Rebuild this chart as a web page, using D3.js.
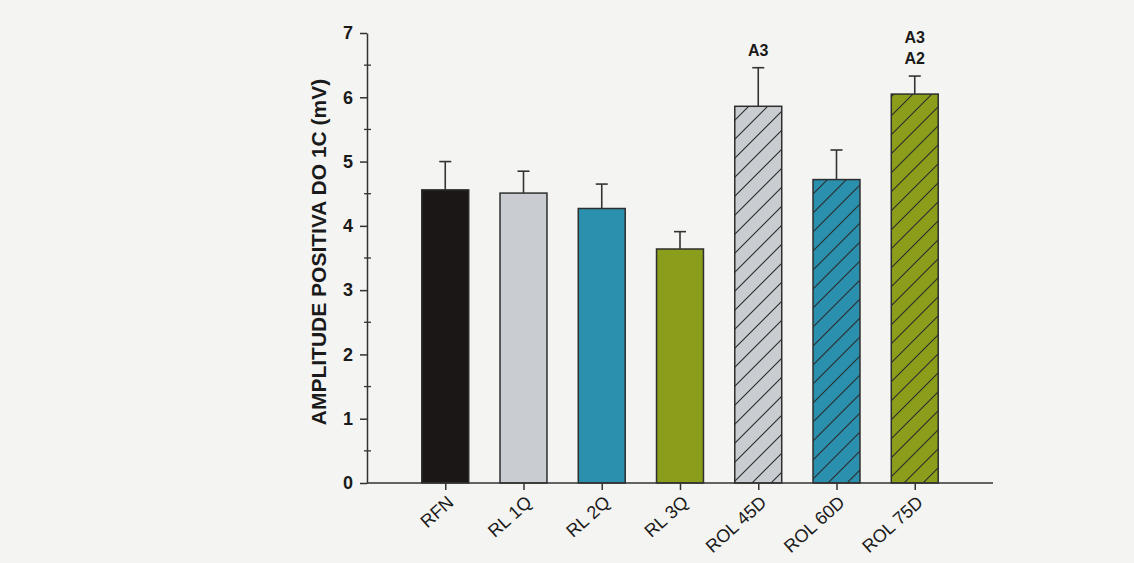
<!DOCTYPE html>
<html>
<head>
<meta charset="utf-8">
<script src="https://cdn.jsdelivr.net/npm/d3@7"></script>
<style>
  html, body { margin: 0; padding: 0; background: #f4f4f2; }
  svg { display: block; }
  text { font-family: "Liberation Sans", Arial, sans-serif; fill: #1a1a1a; }
</style>
</head>
<body>
<svg id="chart" width="1134" height="563"></svg>
<script>
// Groups, means and SEM of the positive amplitude of 1C (mV)
const groups   = ["RFN", "RL 1Q", "RL 2Q", "RL 3Q", "ROL 45D", "ROL 60D", "ROL 75D"];
const means    = [4.56, 4.51, 4.27, 3.64, 5.86, 4.72, 6.05];
const errors   = [0.44, 0.34, 0.38, 0.27, 0.60, 0.46, 0.28];
const fills    = ["#1c1717", "#c9cdd1", "#2b90ad", "#8c9d1b", "#c9cdd1", "#2b90ad", "#8c9d1b"];
const hatched  = [false, false, false, false, true, true, true];
const sigMarks = [[], [], [], [], ["A3"], [], ["A3", "A2"]];
const yTicks   = [0, 1, 2, 3, 4, 5, 6, 7];
const yMinor   = [0.5, 1.5, 2.5, 3.5, 4.5, 5.5, 6.5];
const yTitle   = "AMPLITUDE POSITIVA DO 1C (mV)";

const svg = d3.select("#chart");
const x0 = 367, x1 = 993, yBase = 483, yTop = 33;

const x = d3.scalePoint().domain(groups).range([x0, x1]).padding(1);
const y = d3.scaleLinear().domain([0, 7]).range([yBase, yTop]);
const barW = x.step() * 0.6;

// Diagonal hatch patterns, one per fill colour
const defs = svg.append("defs");
groups.forEach((g, i) => {
  if (!hatched[i]) return;
  const p = defs.append("pattern")
    .attr("id", "hatch" + i)
    .attr("patternUnits", "userSpaceOnUse")
    .attr("width", 19).attr("height", 19);
  p.append("rect").attr("width", 19).attr("height", 19).attr("fill", fills[i]);
  p.append("path")
    .attr("d", "M-1,20 L20,-1 M-10,10 L10,-10 M9,29 L29,9")
    .attr("stroke", "#2a2a2a").attr("stroke-width", 1.1);
});

// Bars
svg.append("g").selectAll("rect")
  .data(groups)
  .join("rect")
  .attr("x", d => x(d) - barW / 2)
  .attr("y", (d, i) => y(means[i]))
  .attr("width", barW)
  .attr("height", (d, i) => yBase - y(means[i]))
  .attr("fill", (d, i) => hatched[i] ? `url(#hatch${i})` : fills[i])
  .attr("stroke", "#2e2e2e")
  .attr("stroke-width", 1.5);

// Error bars (upper half only)
const eb = svg.append("g").attr("stroke", "#333").attr("stroke-width", 1.6);
groups.forEach((g, i) => {
  const cx = x(g), top = y(means[i] + errors[i]);
  eb.append("line").attr("x1", cx).attr("x2", cx).attr("y1", y(means[i])).attr("y2", top);
  eb.append("line").attr("x1", cx - 6).attr("x2", cx + 6).attr("y1", top).attr("y2", top);
});

// Significance letters above the error bars
groups.forEach((g, i) => {
  const marks = sigMarks[i];
  const base = y(means[i] + errors[i]) - 12;
  marks.slice().reverse().forEach((m, k) => {
    svg.append("text")
      .attr("x", x(g)).attr("y", base - k * 21)
      .attr("text-anchor", "middle")
      .attr("font-size", 16).attr("font-weight", "bold")
      .attr("fill", "#222")
      .text(m);
  });
});

// Y axis
const yAxis = svg.append("g")
  .attr("transform", `translate(${x0},0)`)
  .call(d3.axisLeft(y).tickValues(yTicks).tickFormat(d3.format("d")).tickSize(7).tickPadding(7).tickSizeOuter(0));
yAxis.select(".domain").attr("stroke", "#333").attr("stroke-width", 1.5);
yAxis.selectAll(".tick line").attr("stroke", "#333").attr("stroke-width", 1.5);
yAxis.selectAll(".tick text")
  .attr("font-size", 18).attr("font-weight", "bold")
  .attr("font-family", "'Liberation Sans', Arial, sans-serif").attr("fill", "#1a1a1a");

// Minor ticks straddling the y axis
svg.append("g").selectAll("line")
  .data(yMinor).join("line")
  .attr("x1", x0 - 3).attr("x2", x0 + 4)
  .attr("y1", d => y(d)).attr("y2", d => y(d))
  .attr("stroke", "#333").attr("stroke-width", 1.3);

// X axis
const xAxis = svg.append("g")
  .attr("transform", `translate(0,${yBase})`)
  .call(d3.axisBottom(x).tickSize(7).tickSizeOuter(0));
xAxis.select(".domain").attr("stroke", "#333").attr("stroke-width", 1.5)
  .attr("d", `M${x0},0H${x1}`);
xAxis.selectAll(".tick line").attr("stroke", "#333").attr("stroke-width", 1.5);
xAxis.selectAll(".tick text")
  .attr("font-size", 18)
  .attr("font-family", "'Liberation Sans', Arial, sans-serif").attr("fill", "#1a1a1a")
  .attr("text-anchor", "end")
  .attr("dy", 0)
  .attr("transform", "translate(9,21) rotate(-42)")
  .attr("y", 0).attr("x", 0);

// Y title
svg.append("text")
  .attr("transform", `translate(326,${(77 + 427) / 2}) rotate(-90)`)
  .attr("text-anchor", "middle")
  .attr("font-size", 21).attr("font-weight", "bold")
  .attr("fill", "#1a1a1a")
  .text(yTitle);
</script>
</body>
</html>
